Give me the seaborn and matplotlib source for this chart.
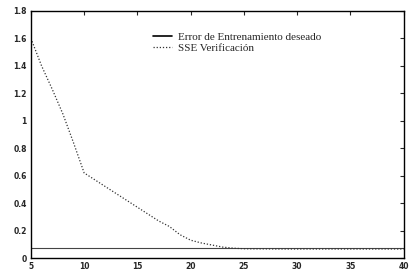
import matplotlib
matplotlib.use("Agg")
import matplotlib.pyplot as plt
import pandas as pd
import seaborn as sns

epochs = list(range(5, 41))
sse_verificacion = [1.60, 1.40, 1.23, 1.05, 0.84, 0.62, 0.57, 0.52, 0.47, 0.42,
                    0.37, 0.32, 0.27, 0.23, 0.17, 0.13, 0.11, 0.095, 0.08, 0.072,
                    0.068, 0.067, 0.067, 0.066, 0.066, 0.066, 0.066, 0.066, 0.066, 0.066,
                    0.066, 0.066, 0.066, 0.066, 0.066, 0.066]
error_deseado = [0.07] * len(epochs)

x_ticks = [5, 10, 15, 20, 25, 30, 35, 40]
y_ticks = [0, 0.2, 0.4, 0.6, 0.8, 1.0, 1.2, 1.4, 1.6, 1.8]
y_labels = ["0", "0.2", "0.4", "0.6", "0.8", "1", "1.2", "1.4", "1.6", "1.8"]

sns.set_theme(style="white")
plt.rcParams["font.family"] = ["DejaVu Sans"]
plt.rcParams["xtick.direction"] = "in"
plt.rcParams["ytick.direction"] = "in"

df = pd.DataFrame({"epoch": epochs, "sse": sse_verificacion, "goal": error_deseado})

fig = plt.figure(figsize=(4.12, 2.79), dpi=100)
ax = fig.add_axes([0.075, 0.075, 0.905, 0.886])

sns.lineplot(data=df, x="epoch", y="goal", ax=ax, color="#444444", lw=0.8,
             label="Error de Entrenamiento deseado")
sns.lineplot(data=df, x="epoch", y="sse", ax=ax, color="#333333", lw=0.9,
             linestyle=(0, (1, 1.5)), label="SSE Verificación")

ax.set_xlim(5, 40)
ax.set_ylim(0, 1.8)
ax.set_xticks(x_ticks)
ax.set_yticks(y_ticks)
ax.set_yticklabels(y_labels)
ax.tick_params(axis="both", labelsize=5.5, length=3, width=0.8,
               top=True, right=True, pad=3)
for lab in ax.get_xticklabels() + ax.get_yticklabels():
    lab.set_fontweight("bold")
ax.set_xlabel(None)
ax.set_ylabel(None)
for s in ax.spines.values():
    s.set_color("black")
    s.set_linewidth(1.0)

leg = ax.legend(loc="upper left", bbox_to_anchor=(0.30, 0.955), frameon=False,
                prop={"family": "Liberation Serif", "size": 8},
                handlelength=1.7, handletextpad=0.6, labelspacing=0.1)
leg.get_lines()[0].set_color("black")
leg.get_lines()[0].set_linewidth(1.2)

fig.savefig("out.png", dpi=100)
